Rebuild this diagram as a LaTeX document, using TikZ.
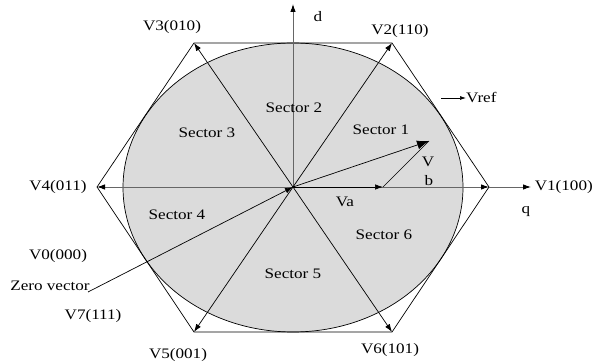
\documentclass[tikz,border=0pt]{standalone}
\usepackage{fontspec}
\setmainfont{Liberation Serif}[FakeStretch=1.18]
\usetikzlibrary{arrows.meta}
\begin{document}
\begin{tikzpicture}[x=1pt,y=-1pt,
  lbl/.style={font=\fontsize{14.5}{16}\selectfont, inner sep=0pt},
  vec/.style={line width=0.7pt, -{Latex[length=8pt,width=5.5pt]}},
  axis/.style={line width=0.9pt, draw=black!60, -{Latex[length=8pt,width=5.5pt,color=black]}},
  hexline/.style={line width=0.7pt}]
\useasboundingbox (0,0) rectangle (595,363);
% coordinates
\coordinate (O) at (293,187);
\coordinate (v1) at (489,187);
\coordinate (v2) at (392,43);
\coordinate (v3) at (194,43);
\coordinate (v4) at (97,187);
\coordinate (v5) at (194,332);
\coordinate (v6) at (392,332);
\coordinate (qend) at (531,187);
\coordinate (dend) at (293,4);
\coordinate (va) at (383,187);
\coordinate (vr) at (429,141);
\coordinate (zv) at (88,292);
\coordinate (rs) at (441,98);
% ellipse
\fill[black!14] (293,187.5) ellipse [x radius=170, y radius=144.5];
\draw[line width=0.7pt] (293,187.5) ellipse [x radius=170, y radius=144.5];
% hexagon
\draw[hexline] (v1) -- (v2) -- (v3) -- (v4) -- (v5) -- (v6) -- cycle;
% axes
\draw[axis] (O) -- (dend);
\draw[axis] (O) -- (v4);
\draw[axis] (O) -- (v1);
\draw[axis] (v1) -- (qend);
% vectors
\draw[vec] (O) -- (v2);
\draw[vec] (O) -- (v3);
\draw[vec] (O) -- (v5);
\draw[vec] (O) -- (v6);
\draw[vec] (O) -- (va);
\draw[line width=0.7pt] (va) -- (vr);
\draw[line width=0.7pt, -{Latex[length=12pt,width=9pt]}] (O) -- (vr);
\draw[vec] (zv) -- (O);
% labels
\node[lbl] (l3) at (172,27) {V3(010)};
\node[lbl] (l2) at (400,31) {V2(110)};
\node[lbl] (l4) at (58,187) {V4(011)};
\node[lbl, anchor=east] (l1) at (593,187) {V1(100)};
\node[lbl] (l0) at (58,256) {V0(000)};
\node[lbl] (lz) at (50,286) {Zero vector};
\node[lbl] (l7) at (93,316) {V7(111)};
\node[lbl] (l5) at (178,355) {V5(001)};
\node[lbl] (l6) at (390,350) {V6(101)};
\node[lbl] (ld) at (318,17) {d};
\node[lbl] (lq) at (526,212) {q};
\node[lbl] (lva) at (345,202) {Va};
\node[lbl] (lv) at (428,162) {V};
\node[lbl] (lb) at (429,181) {b};
\node[lbl, anchor=west] (lref) at (466,98) {Vref};
\draw[line width=0.7pt, -{Latex[length=6pt,width=4pt]}] (rs) -- (lref.west);
\node[lbl] (s1) at (381,130) {Sector 1};
\node[lbl] (s2) at (294,108) {Sector 2};
\node[lbl] (s3) at (207,133) {Sector 3};
\node[lbl] (s4) at (177,215) {Sector 4};
\node[lbl] (s5) at (293,274) {Sector 5};
\node[lbl] (s6) at (384,235) {Sector 6};
\end{tikzpicture}
\end{document}
